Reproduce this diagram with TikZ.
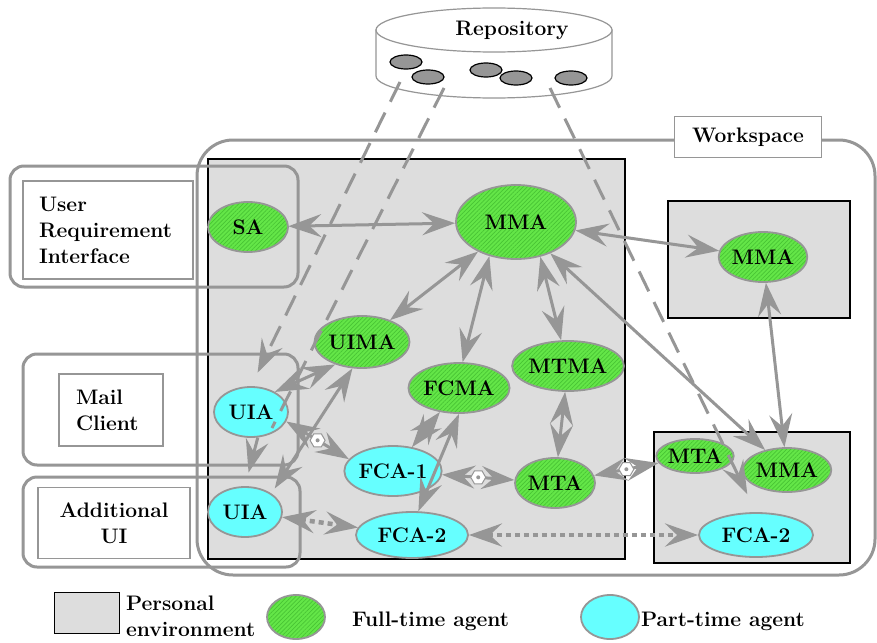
\documentclass[tikz,border=0pt]{standalone}
\usepackage{tikz}
\usepackage{xcolor}
\usetikzlibrary{arrows.meta, shapes.geometric, patterns.meta}

\definecolor{linkgray}{RGB}{150,150,150}
\definecolor{envgray}{RGB}{221,221,221}
\definecolor{fullgreen}{RGB}{100,230,72}
\definecolor{fullstripe}{RGB}{72,196,52}
\definecolor{partcyan}{RGB}{102,255,255}

\begin{document}
\begin{tikzpicture}[x=1pt, y=-1pt, font=\fontsize{21}{26}\selectfont\bfseries,
        barb/.tip={Stealth[length=33pt 0, width=23pt 0, inset=12pt 0]},
        agent/.style={ellipse, draw=linkgray, line width=1.8pt, inner sep=0pt},
        full/.style={agent, preaction={fill=fullgreen}, pattern={Lines[angle=45,distance=3pt,line width=0.7pt]}, pattern color=fullstripe},
        part/.style={agent, fill=partcyan},
        env/.style={draw=black, line width=1.5pt, fill=envgray},
        uiframe/.style={draw=linkgray, line width=3pt, rounded corners=14pt},
        uibox/.style={draw=linkgray, line width=1.5pt, fill=white, inner ysep=0pt},
        link/.style={draw=linkgray, line width=3pt, barb-barb},
        dashlink/.style={draw=linkgray, line width=3pt, dash pattern=on 22pt off 12pt},
        dotlink/.style={link, line width=4.5pt, dash pattern=on 5pt off 4pt},
        hub/.style={regular polygon, regular polygon sides=6, draw=linkgray, fill=white, line width=1pt,
            minimum size=15pt, inner sep=0pt,
            path picture={\fill[linkgray] (path picture bounding box.center) circle (2pt);}}]
        \fill[white] (0,0) rectangle (877,642);
        \useasboundingbox (0,0) rectangle (877,642);

        % repository
        \draw[draw=linkgray, line width=1.2pt, fill=white] (376,30) -- (376,76) arc[start angle=180, end angle=0, x radius=118, y radius=22] -- (612,30) -- cycle;
        \draw[draw=linkgray, line width=1.2pt, fill=white] (494,30) ellipse [x radius=118, y radius=22];
        \foreach \bx/\by in {406/62, 428/77, 486/70, 516/78, 571/78}
            \draw[fill=linkgray, line width=1.2pt] (\bx,\by) ellipse [x radius=16, y radius=7];
        \node (repo) at (512,30) {Repository};
        \coordinate (r1) at (400,82);
        \coordinate (r2) at (444,88);
        \coordinate (r3) at (550,88);

        % workspace and personal environments
        \draw[draw=linkgray, line width=3pt, rounded corners=36pt] (197,140) rectangle (875,575);
        \node[uibox, inner sep=0pt, minimum width=147pt, minimum height=41pt] (wslabel) at (748,137) {Workspace};
        \draw[env] (208,159) rectangle (625,559);
        \draw[env] (668,201) rectangle (850,318);
        \draw[env] (654,432) rectangle (850,563);

        % user interfaces
        \draw[uiframe] (10,166) rectangle (298,287);
        \draw[uiframe] (23,354) rectangle (298,465);
        \draw[uiframe] (23,477) rectangle (300,567);
        \node[uibox, minimum width=170pt, minimum height=98pt, text width=138pt, inner xsep=16pt, align=left] (urilabel) at (108,230) {User\\Requirement\\Interface};
        \node[uibox, minimum width=104pt, minimum height=72pt, text width=70pt, inner xsep=17pt, align=left] (maillabel) at (111,410) {Mail\\Client};
        \node[uibox, minimum width=152pt, minimum height=71pt, text width=140pt, inner xsep=6pt, align=center] (addlabel) at (114,523) {Additional\\UI};

        % agents
        \node[full, minimum width=80pt, minimum height=50pt] (sa) at (248,227) {SA};
        \node[full, minimum width=120pt, minimum height=74pt] (mma) at (516,222) {MMA};
        \node[full, minimum width=90pt, minimum height=52pt] (uima) at (362,342) {UIMA};
        \node[full, minimum width=92pt, minimum height=50pt] (fcma) at (459,388) {FCMA};
        \node[full, minimum width=104pt, minimum height=50pt] (mtma) at (568,366) {MTMA};
        \node[part, minimum width=74pt, minimum height=50pt] (uiam) at (251,412) {UIA};
        \node[part, minimum width=74pt, minimum height=50pt] (uiaa) at (245,512) {UIA};
        \node[part, minimum width=90pt, minimum height=50pt] (fca1) at (393,471) {FCA-1};
        \node[part, minimum width=112pt, minimum height=46pt] (fca2) at (412,535) {FCA-2};
        \node[full, minimum width=80pt, minimum height=50pt] (mta) at (555,483) {MTA};
        \node[full, minimum width=80pt, minimum height=50pt] (mmab) at (763,257) {MMA};
        \node[full, minimum width=62pt, minimum height=34pt] (mtab) at (695,456) {MTA};
        \node[full, minimum width=76pt, minimum height=44pt] (mmac) at (787,470) {MMA};
        \node[part, minimum width=114pt, minimum height=44pt] (fca2b) at (756,535) {FCA-2};
        \coordinate (r2end) at (272,428);

        % connectors
        \draw[link] (sa) -- (mma);
        \draw[link] (mma) -- (uima);
        \draw[link] (mma.232) -- (fcma.82);
        \draw[link] (mma.305) -- (mtma.105);
        \draw[link] (mma) -- (mmab);
        \draw[link] (mma) -- (mmac);
        \draw[link] (mmab) -- (mmac);
        \draw[link] (mtma) -- (mta);
        \draw[link] (fca1) -- (fcma);
        \draw[link] (fcma.south) -- (fca2.75);
        \draw[link] (uiam.40) -- (uima.220);
        \draw[link, shorten >=6pt] (uima.250) -- (uiaa.35);
        \draw[link, -barb, shorten >=14pt] (uiam.285) -- (uiaa.north);
        \draw[link] (uiam.345) -- node[hub] {} (fca1.165);
        \draw[link] (fca1) -- node[hub] {} (mta);
        \draw[link] (mta) -- node[hub] {} (mtab);
        \draw[dotlink] (uiaa) -- (fca2);
        \draw[dotlink] (fca2) -- (fca2b);
        \draw[dashlink, -barb, shorten >=15pt] (r1) -- (uiam.north);
        \draw[dashlink] (r2) -- (r2end);
        \draw[dashlink, -barb, shorten >=20pt] (r3) -- (fca2b.north);

        % legend
        \node[env, inner sep=0pt, minimum width=65pt, minimum height=41pt] (legenv) at (87,613) {};
        \node[anchor=west, align=left, inner sep=0pt] (legenvtext) at (126,616) {Personal\\environment};
        \node[full, minimum width=58pt, minimum height=44pt] (legfull) at (296,617) {};
        \node[anchor=west, inner sep=0pt] (legfulltext) at (352,621) {Full-time agent};
        \node[part, minimum width=58pt, minimum height=44pt] (legpart) at (610,617) {};
        \node[anchor=west, inner sep=0pt] (legparttext) at (641,621) {Part-time agent};
    \end{tikzpicture}
\end{document}
